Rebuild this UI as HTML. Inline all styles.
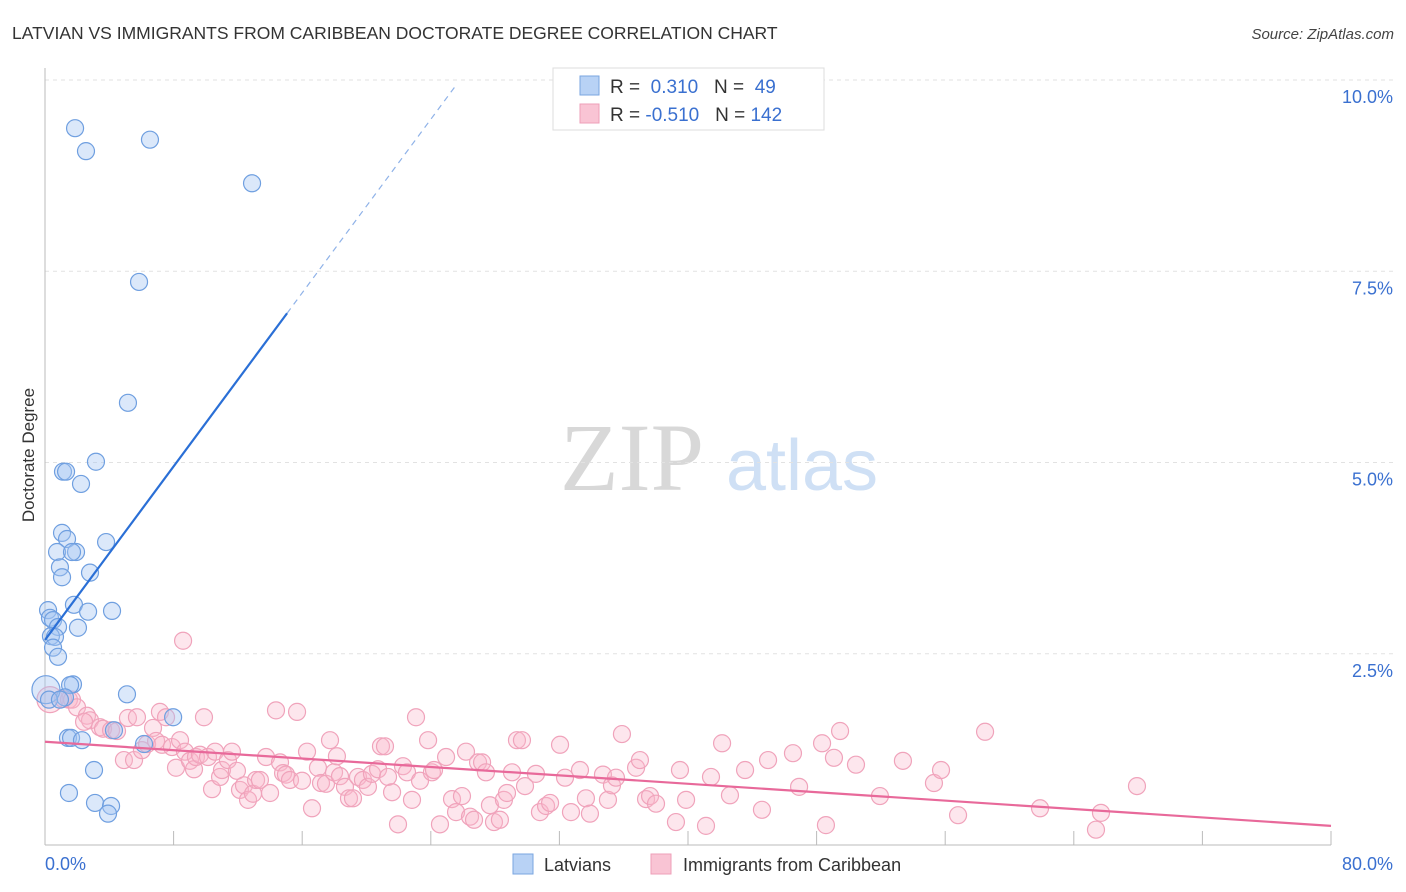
<!DOCTYPE html>
<html><head><meta charset="utf-8"><style>
body{margin:0;background:#fff;font-family:"Liberation Sans",sans-serif;}
svg{display:block}
</style></head><body>
<svg id="chart" width="1406" height="892" xmlns="http://www.w3.org/2000/svg">
<text x="12" y="39" font-size="17.5" fill="#333">LATVIAN VS IMMIGRANTS FROM CARIBBEAN DOCTORATE DEGREE CORRELATION CHART</text>
<text x="1394" y="39" font-size="15" fill="#444" font-style="italic" text-anchor="end">Source: ZipAtlas.com</text>
<g>
<text x="632" y="490" font-size="96" fill="#d8d8d8" font-family="Liberation Serif,serif" text-anchor="middle">ZIP</text>
<text x="802" y="490" font-size="72" fill="#cfe0f5" text-anchor="middle">atlas</text>
</g>
<g id="grid"></g>
<g id="axes"></g>
<g id="pink"></g>
<g id="blue"></g>
<g id="lines"></g>
<text transform="translate(34,455) rotate(-90)" font-size="17" fill="#333" text-anchor="middle">Doctorate Degree</text>
<g>
<rect x="553" y="68" width="271" height="62" fill="#fff" stroke="#ddd"/>
<rect x="580" y="76" width="19" height="19" fill="#b8d2f5" stroke="#7aa6e0"/>
<rect x="580" y="104" width="19" height="19" fill="#f9c4d4" stroke="#ee9fb8"/>
<text x="610" y="93" font-size="19" fill="#333">R = <tspan fill="#3a70d0">&#160;0.310</tspan>&#160;&#160;&#160;N = <tspan fill="#3a70d0">&#160;49</tspan></text>
<text x="610" y="121" font-size="19" fill="#333">R = <tspan fill="#3a70d0">-0.510</tspan>&#160;&#160;&#160;N = <tspan fill="#3a70d0">142</tspan></text>
</g>
<g>
<rect x="513" y="854" width="20" height="20" fill="#b8d2f5" stroke="#7aa6e0"/>
<text x="544" y="871" font-size="18" fill="#333">Latvians</text>
<rect x="651" y="854" width="20" height="20" fill="#f9c4d4" stroke="#ee9fb8"/>
<text x="683" y="871" font-size="18" fill="#333">Immigrants from Caribbean</text>
</g>
</svg>
<script>
const yTicks=[2.5,5.0,7.5,10.0];
const xTickCount=10;
const blueX=[1.87,2.55,6.53,12.88,5.85,5.16,3.17,1.12,1.31,2.24,1.06,1.37,0.75,1.93,1.68,3.80,0.93,1.06,2.80,1.80,2.68,4.17,0.19,0.31,0.5,0.81,2.05,0.37,0.62,0.5,0.81,1.74,1.56,5.10,1.24,7.97,4.29,6.16,1.43,1.62,2.30,3.05,1.49,3.11,4.11,3.92,0.06,0.25,0.93];
const blueY=[9.37,9.07,9.22,8.65,7.36,5.78,5.01,4.88,4.88,4.72,4.08,4.0,3.83,3.83,3.83,3.96,3.63,3.50,3.56,3.14,3.05,3.06,3.07,2.97,2.94,2.85,2.84,2.73,2.72,2.58,2.46,2.10,2.09,1.97,1.93,1.67,1.50,1.32,1.40,1.40,1.37,0.98,0.68,0.55,0.51,0.41,2.03,1.9,1.9];
const pinkX=[8.59,0.31,1.12,1.49,1.68,1.99,2.61,2.80,2.43,3.42,3.61,4.11,4.48,4.91,5.16,5.54,5.72,6.03,6.35,6.72,7.15,6.91,7.28,7.53,7.90,8.15,8.40,8.71,9.02,9.27,9.39,9.64,9.89,10.14,10.39,10.58,10.89,11.01,11.38,11.63,11.94,12.13,12.38,12.63,12.94,13.13,13.37,13.75,14.00,14.37,14.62,14.81,14.99,15.24,15.68,15.99,16.30,16.61,16.98,17.17,17.48,17.73,17.98,18.16,18.35,18.66,18.91,19.16,19.47,19.78,20.09,20.34,20.72,20.90,21.15,21.34,21.59,21.96,22.27,22.52,22.83,23.08,23.33,23.83,24.07,24.20,24.57,24.95,25.32,25.57,25.94,26.19,26.44,26.69,26.94,27.19,27.43,27.68,27.93,28.30,28.55,28.74,29.05,29.36,29.67,29.86,30.54,30.79,31.17,31.42,32.04,32.35,32.72,33.28,33.65,33.90,34.71,35.02,35.27,35.52,35.89,36.77,37.01,37.39,37.64,38.01,39.25,39.50,39.88,41.12,41.43,42.12,42.61,43.55,44.60,44.98,46.53,46.91,48.34,48.58,49.08,49.46,50.45,51.94,53.37,55.30,55.74,56.80,58.48,61.90,65.38,65.69,67.93];
const pinkY=[2.67,1.90,1.91,1.90,1.90,1.80,1.69,1.63,1.61,1.54,1.52,1.50,1.49,1.11,1.66,1.11,1.67,1.24,1.32,1.53,1.74,1.36,1.31,1.67,1.28,1.01,1.37,1.22,1.10,0.99,1.15,1.18,1.67,1.15,0.73,1.22,0.89,0.98,1.11,1.22,0.97,0.72,0.78,0.59,0.67,0.85,0.85,1.15,0.68,1.76,1.08,0.94,0.92,0.85,1.74,0.84,1.22,0.48,1.01,0.81,0.80,1.37,0.95,1.16,0.90,0.76,0.61,0.61,0.89,0.85,0.76,0.93,0.99,1.29,1.29,0.89,0.69,0.27,1.03,0.95,0.59,1.67,0.84,1.37,0.95,0.98,0.27,1.15,0.60,0.43,0.64,1.22,0.37,0.33,1.08,1.08,0.95,0.52,0.30,0.33,0.59,0.68,0.95,1.37,1.37,0.77,0.93,0.43,0.51,0.55,1.31,0.88,0.43,0.98,0.61,0.41,0.92,0.59,0.78,0.88,1.45,1.01,1.11,0.60,0.64,0.54,0.30,0.98,0.59,0.25,0.89,1.33,0.65,0.98,0.46,1.11,1.20,0.76,1.33,0.26,1.14,1.49,1.05,0.64,1.10,0.81,0.98,0.39,1.48,0.48,0.20,0.42,0.77];
const blueTrend=[2.68,0.2836];
const blueSolidEnd=15.06, blueDashEnd=25.5;
const pinkTrend=[1.35,-0.01375];

const NS="http://www.w3.org/2000/svg";
const X0=45,X1=1331,Y0=845,Y10=80;
function sx(v){return X0+(X1-X0)*v/80;}
function sy(v){return Y0-(Y0-Y10)*v/10;}
function mk(tag,attrs,parent){const e=document.createElementNS(NS,tag);for(const k in attrs)e.setAttribute(k,attrs[k]);parent.appendChild(e);return e;}
const grid=document.getElementById('grid'),axes=document.getElementById('axes');
yTicks.forEach(t=>{
  const l=mk('line',{x1:X0,x2:1394,y1:sy(t),y2:sy(t),stroke:'#e2e2e2','stroke-dasharray':'4,4'},grid);
  
  
  const tx=mk('text',{x:1393,y:sy(t)+23,'font-size':18,fill:'#3a70d0','text-anchor':'end'},axes);
  tx.textContent=t.toFixed(1)+'%';
  
  
});
let a=mk('line',{x1:X0,x2:X0,y1:68,y2:Y0,stroke:'#bbb'},axes);


a=mk('line',{x1:X0,x2:X1,y1:Y0,y2:Y0,stroke:'#bbb'},axes);


for(let i=0;i<=xTickCount;i++){
  const t=mk('line',{x1:sx(i*8),x2:sx(i*8),y1:Y0,y2:Y0-14,stroke:'#bbb'},axes);
  
  
}
let xl=mk('text',{x:45,y:870,'font-size':18,fill:'#3a70d0'},axes);xl.textContent='0.0%';


xl=mk('text',{x:1393,y:870,'font-size':18,fill:'#3a70d0','text-anchor':'end'},axes);xl.textContent='80.0%';



const pg=document.getElementById('pink');
pinkX.forEach((x,i)=>{
  const c=mk('circle',{cx:sx(x),cy:sy(pinkY[i]),r:i===1?13:8.5,fill:'rgba(248,182,202,0.35)',stroke:'#f0a3bb','stroke-width':1.2},pg);
  
  
});
const bg=document.getElementById('blue');
blueX.forEach((x,i)=>{
  const c=mk('circle',{cx:sx(x),cy:sy(blueY[i]),r:i===46?14:8.5,fill:'rgba(165,198,242,0.4)',stroke:'#6f9fe0','stroke-width':1.2},bg);
  
  
});
const lg=document.getElementById('lines');
let ln=mk('line',{x1:sx(0),y1:sy(blueTrend[0]),x2:sx(blueSolidEnd),y2:sy(blueTrend[0]+blueTrend[1]*blueSolidEnd),stroke:'#2a6fd6','stroke-width':2.2},lg);


ln=mk('line',{x1:sx(blueSolidEnd),y1:sy(blueTrend[0]+blueTrend[1]*blueSolidEnd),x2:sx(blueDashEnd),y2:sy(blueTrend[0]+blueTrend[1]*blueDashEnd),stroke:'#8fb2e8','stroke-width':1.2,'stroke-dasharray':'6,5'},lg);


ln=mk('line',{x1:sx(0),y1:sy(pinkTrend[0]),x2:sx(80),y2:sy(pinkTrend[0]+pinkTrend[1]*80),stroke:'#e8699a','stroke-width':2.2},lg);


</script>
</body></html>
